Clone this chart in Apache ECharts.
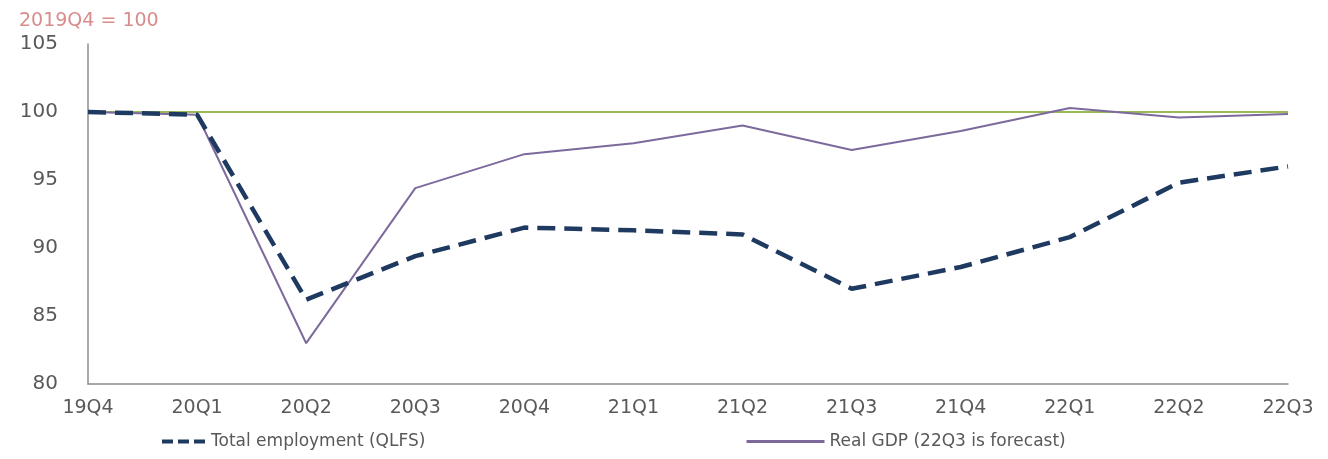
<!DOCTYPE html>
<html>
<head>
<meta charset="utf-8">
<script src="https://cdn.jsdelivr.net/npm/echarts@6/dist/echarts.min.js"></script>
<style>
  html, body { margin: 0; padding: 0; background: #fff; }
  #chart { width: 1328px; height: 459px; }
</style>
</head>
<body>
<div id="chart"></div>
<script>
// quarters on the x axis
let quarters = ['19Q4','20Q1','20Q2','20Q3','20Q4','21Q1','21Q2','21Q3','21Q4','22Q1','22Q2','22Q3'];
// index values, 2019Q4 = 100
let employment = [100, 99.8, 86.2, 89.4, 91.5, 91.3, 91.0, 87.0, 88.6, 90.8, 94.8, 96.0];
let gdp = [100, 99.8, 83.0, 94.4, 96.9, 97.7, 99.0, 97.2, 98.6, 100.3, 99.6, 99.85];
let baseline = [100, 100, 100, 100, 100, 100, 100, 100, 100, 100, 100, 100];
let yTicks = [80, 85, 90, 95, 100, 105];

var myChart = echarts.init(document.getElementById('chart'));
var labelColor = '#595959';
var option = {
  animation: false,
  title: {
    text: '2019Q4 = 100',
    left: 14,
    top: 7,
    textStyle: {
      color: '#d98c8c',
      fontSize: 19,
      fontWeight: 'normal',
      fontFamily: 'DejaVu Sans'
    }
  },
  grid: {
    left: 88,
    right: 40,
    top: 44,
    bottom: 75
  },
  legend: [
    {
      data: ['Total employment (QLFS)'],
      left: 155,
      top: 428,
      itemWidth: 48,
      itemHeight: 14,
      itemGap: 4,
      itemStyle: { opacity: 0 },
      lineStyle: { type: [11, 5], width: 4 },
      textStyle: { color: labelColor, fontSize: 17, fontFamily: 'DejaVu Sans', padding: [0, 0, 0, -4] }
    },
    {
      data: ['Real GDP (22Q3 is forecast)'],
      left: 740,
      top: 428,
      itemWidth: 78,
      itemHeight: 14,
      itemStyle: { opacity: 0 },
      lineStyle: { width: 3 },
      textStyle: { color: labelColor, fontSize: 17, fontFamily: 'DejaVu Sans' }
    }
  ],
  xAxis: {
    type: 'category',
    data: quarters,
    boundaryGap: false,
    axisLine: { lineStyle: { color: '#8c8c8c', width: 1.5 } },
    axisTick: { show: false },
    axisLabel: {
      color: labelColor,
      fontSize: 19,
      fontFamily: 'DejaVu Sans',
      margin: 15
    }
  },
  yAxis: {
    type: 'value',
    min: yTicks[0],
    max: yTicks[yTicks.length - 1],
    interval: 5,
    splitLine: { show: false },
    axisLine: { show: true, lineStyle: { color: '#8c8c8c', width: 1.5 } },
    axisTick: { show: false },
    axisLabel: {
      color: labelColor,
      fontSize: 20,
      fontFamily: 'DejaVu Sans',
      margin: 30
    }
  },
  series: [
    {
      name: 'baseline',
      type: 'line',
      data: baseline,
      symbol: 'none',
      silent: true,
      lineStyle: { color: '#9bbb59', width: 2 },
      z: 1
    },
    {
      name: 'Total employment (QLFS)',
      type: 'line',
      data: employment,
      symbol: 'none',
      lineStyle: { color: '#1f3a60', width: 4.5, type: [18, 9] },
      itemStyle: { color: '#1f3a60' },
      z: 3
    },
    {
      name: 'Real GDP (22Q3 is forecast)',
      type: 'line',
      data: gdp,
      symbol: 'none',
      lineStyle: { color: '#7d6a9c', width: 2 },
      itemStyle: { color: '#7d6a9c' },
      z: 2
    }
  ]
};
myChart.setOption(option);
</script>
</body>
</html>
